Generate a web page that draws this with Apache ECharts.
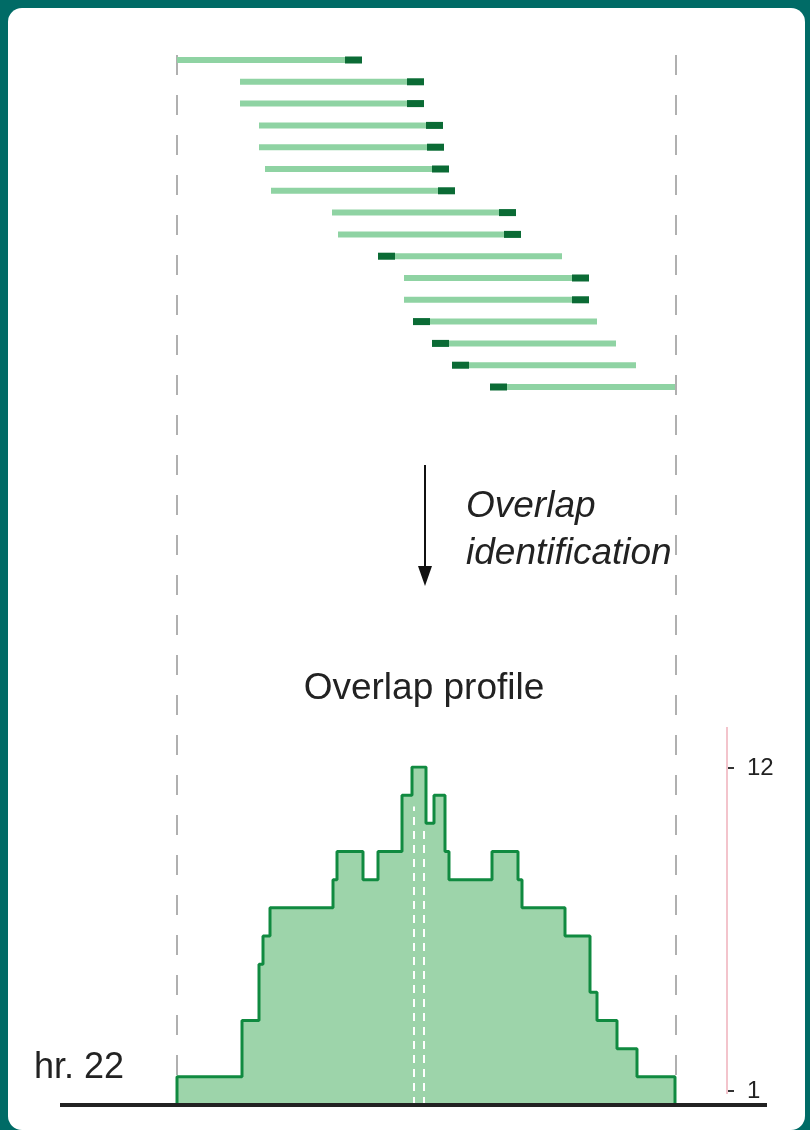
<!DOCTYPE html>
<html>
<head>
<meta charset="utf-8">
<script src="https://cdn.jsdelivr.net/npm/echarts@6/dist/echarts.min.js"></script>
<style>html,body{margin:0;padding:0;background:#006b66}#c{width:810px;height:1130px}</style>
</head>
<body>
<div id="c"></div>
<script>
// reads: start, end, marker side (position units along chromosome)
var readStart = [0, 63, 63, 82, 82, 88, 94, 155, 161, 201, 227, 227, 236, 255, 275, 313];
var readEnd = [185, 247, 247, 266, 267, 272, 278, 339, 344, 385, 412, 412, 420, 439, 459, 498];
var readMark = ['R', 'R', 'R', 'R', 'R', 'R', 'R', 'R', 'R', 'L', 'R', 'R', 'L', 'L', 'L', 'L'];
// overlap profile: breakpoints and depth
var profX = [0, 0, 65, 82, 86, 93, 156, 160, 186, 201, 225, 235, 249, 257, 268, 272, 315, 341, 345, 388, 413, 420, 440, 460, 498];
var profY = [0, 1, 3, 5, 6, 7, 8, 9, 8, 9, 11, 12, 10, 11, 9, 8, 9, 8, 7, 6, 4, 3, 2, 1, 0];
var depthTicks = [1, 12];

var chart = echarts.init(document.getElementById('c'));
var reads = readStart.map(function (s, i) { return [s, readEnd[i], i, readMark[i]]; });
var prof = profX.map(function (x, i) { return [x, profY[i]]; });
var font = 'Liberation Sans, Arial, sans-serif';

function vdash(x) {
    return { type: 'line', shape: { x1: x, y1: 55, x2: x, y2: 1078 },
        style: { stroke: '#b0b0b0', lineWidth: 2, lineDash: [20, 20] }, z: 1 };
}

chart.setOption({
    backgroundColor: '#006b66',
    animation: false,
    graphic: [
        { type: 'rect', shape: { x: 8, y: 8, width: 797, height: 1122, r: 14 }, style: { fill: '#ffffff' }, z: 0 },
        vdash(177), vdash(676),
        { type: 'line', shape: { x1: 425, y1: 465, x2: 425, y2: 570 }, style: { stroke: '#111', lineWidth: 2 }, z: 5 },
        { type: 'polygon', shape: { points: [[418, 566], [432, 566], [425, 586]] }, style: { fill: '#111' }, z: 5 },
        { type: 'text', x: 466, y: 488, style: { text: 'Overlap', font: 'italic 37px ' + font, fill: '#222' }, z: 5 },
        { type: 'text', x: 466, y: 535, style: { text: 'identification', font: 'italic 37px ' + font, fill: '#222' }, z: 5 },
        { type: 'text', x: 424, y: 670, style: { text: 'Overlap profile', font: '37px ' + font, fill: '#222', align: 'center' }, z: 5 },
        { type: 'text', x: 34, y: 1050, style: { text: 'hr. 22', font: '36px ' + font, fill: '#222' }, z: 5 },
        { type: 'line', shape: { x1: 727, y1: 727, x2: 727, y2: 1094 }, style: { stroke: '#f3c4cc', lineWidth: 2 }, z: 4 },
        { type: 'line', shape: { x1: 60, y1: 1105, x2: 767, y2: 1105 }, style: { stroke: '#222', lineWidth: 4 }, z: 10 }
    ],
    grid: [
        { left: 177, width: 498, top: 60, height: 327 },
        { left: 177, width: 498, top: 767, height: 338 },
        { left: 727, width: 60, top: 768, height: 323 }
    ],
    xAxis: [
        { gridIndex: 0, type: 'value', min: 0, max: 498, show: false },
        { gridIndex: 1, type: 'value', min: 0, max: 498, show: false },
        { gridIndex: 2, type: 'value', min: 0, max: 1, show: false }
    ],
    yAxis: [
        { gridIndex: 0, type: 'value', min: 0, max: 15, inverse: true, show: false },
        { gridIndex: 1, type: 'value', min: 0, max: 12, show: false },
        { gridIndex: 2, type: 'value', min: depthTicks[0], max: depthTicks[1], interval: 11, position: 'left',
          axisLine: { show: false }, splitLine: { show: false },
          axisTick: { show: true, length: 7, inside: true, lineStyle: { color: '#333', width: 2 } },
          axisLabel: { inside: true, color: '#222', fontSize: 24, fontFamily: font, margin: 20 } }
    ],
    series: [
        {
            type: 'custom', xAxisIndex: 0, yAxisIndex: 0, data: reads, z: 3,
            renderItem: function (params, api) {
                var a = api.coord([api.value(0), api.value(2)]);
                var b = api.coord([api.value(1), api.value(2)]);
                var m = 17;
                var side = reads[params.dataIndex][3];
                var mx = side === 'R' ? b[0] - m : a[0];
                return { type: 'group', children: [
                    { type: 'rect', shape: { x: a[0], y: a[1] - 3, width: b[0] - a[0], height: 6 }, style: { fill: '#8fd3a3' } },
                    { type: 'rect', shape: { x: mx, y: a[1] - 3.5, width: m, height: 7 }, style: { fill: '#0b6b35' } }
                ] };
            }
        },
        {
            type: 'line', xAxisIndex: 1, yAxisIndex: 1, data: prof, step: 'end', symbol: 'none', z: 3,
            lineStyle: { color: '#108a40', width: 3 },
            areaStyle: { color: '#9dd4aa', opacity: 1 },
            markLine: {
                symbol: 'none', silent: true, label: { show: false },
                lineStyle: { color: '#ffffff', type: [8, 6], width: 2 },
                data: [
                    [{ coord: [237, 0] }, { coord: [237, 10.6] }],
                    [{ coord: [247, 0] }, { coord: [247, 9.8] }]
                ]
            }
        }
    ]
});
</script>
</body>
</html>
